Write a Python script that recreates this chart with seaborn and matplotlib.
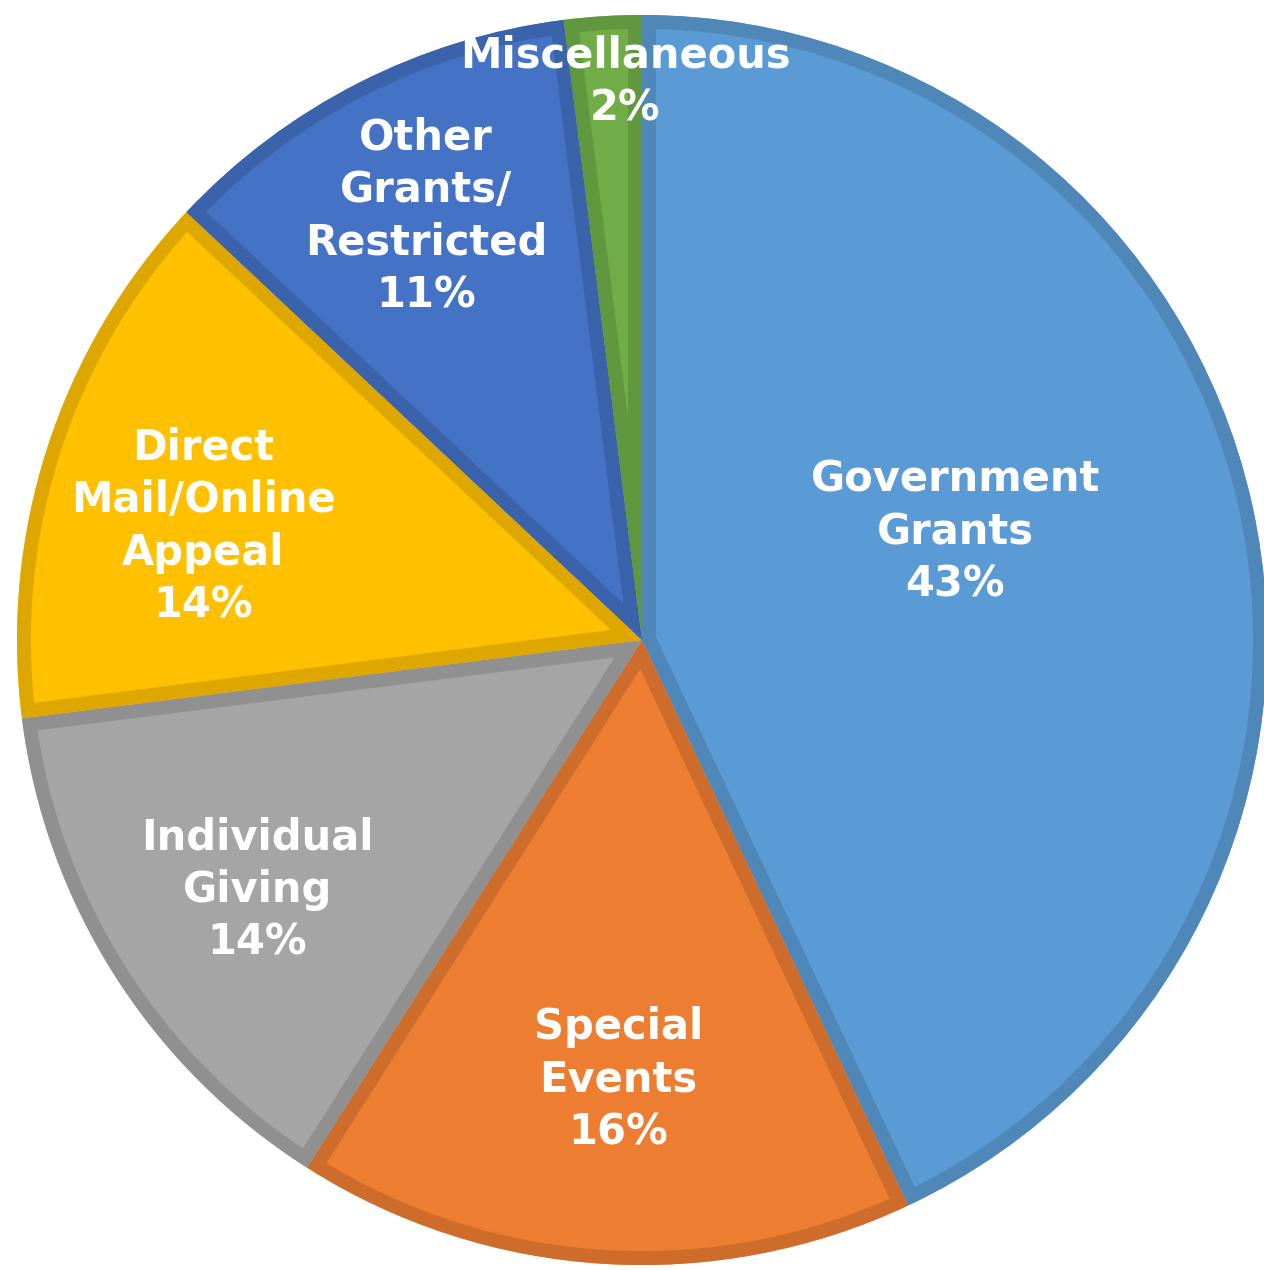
import matplotlib.pyplot as plt
import numpy as np
import seaborn as sns
from matplotlib.colors import to_rgb
from matplotlib.patches import Wedge

categories = ["Government\nGrants", "Special\nEvents", "Individual\nGiving",
              "Direct\nMail/Online\nAppeal", "Other\nGrants/\nRestricted", "Miscellaneous"]
shares = [43, 16, 14, 14, 11, 2]
colors = ["#5B9BD5", "#ED7D31", "#A5A5A5", "#FFC000", "#4472C4", "#70AD47"]

# label placement: radius (fraction of pie radius) and angle nudge (deg)
label_r = [0.53, 0.705, 0.734, 0.725, 0.761, 0.893]
label_nudge = [6.4, 0.5, 0.6, 3.5, 0.0, -1.9]

sns.set_theme(style="white")
plt.rcParams["font.family"] = ["DejaVu Sans"]

fig = plt.figure(figsize=(12.64, 12.70), dpi=100)
ax = fig.add_axes([0, 0, 1, 1])

edge_colors = [tuple(np.array(to_rgb(c)) * 0.87) for c in colors]
wedges, _ = ax.pie(shares, colors=colors, startangle=90, counterclock=False,
                   wedgeprops=dict(linewidth=0))

# inner border: stroke a copy of each wedge, clipped to the wedge itself
for w, ec in zip(wedges, edge_colors):
    border = Wedge(w.center, w.r, w.theta1, w.theta2, facecolor="none",
                   edgecolor=ec, linewidth=20, joinstyle="miter")
    ax.add_patch(border)
    border.set_clip_path(w)

total = sum(shares)
for w, cat, val, r, dn in zip(wedges, categories, shares, label_r, label_nudge):
    mid = np.deg2rad((w.theta1 + w.theta2) / 2 + dn)
    ax.text(r * np.cos(mid), r * np.sin(mid), f"{cat}\n{val / total:.0%}",
            ha="center", va="center", color="white", fontsize=30,
            fontweight="bold", linespacing=1.32)

ax.set_xlim(-642 / 625, (1264 - 642) / 625)
ax.set_ylim(-630 / 625, 640 / 625)
ax.set_aspect("auto")
ax.axis("off")

fig.savefig("out.png", dpi=100)
plt.close(fig)
